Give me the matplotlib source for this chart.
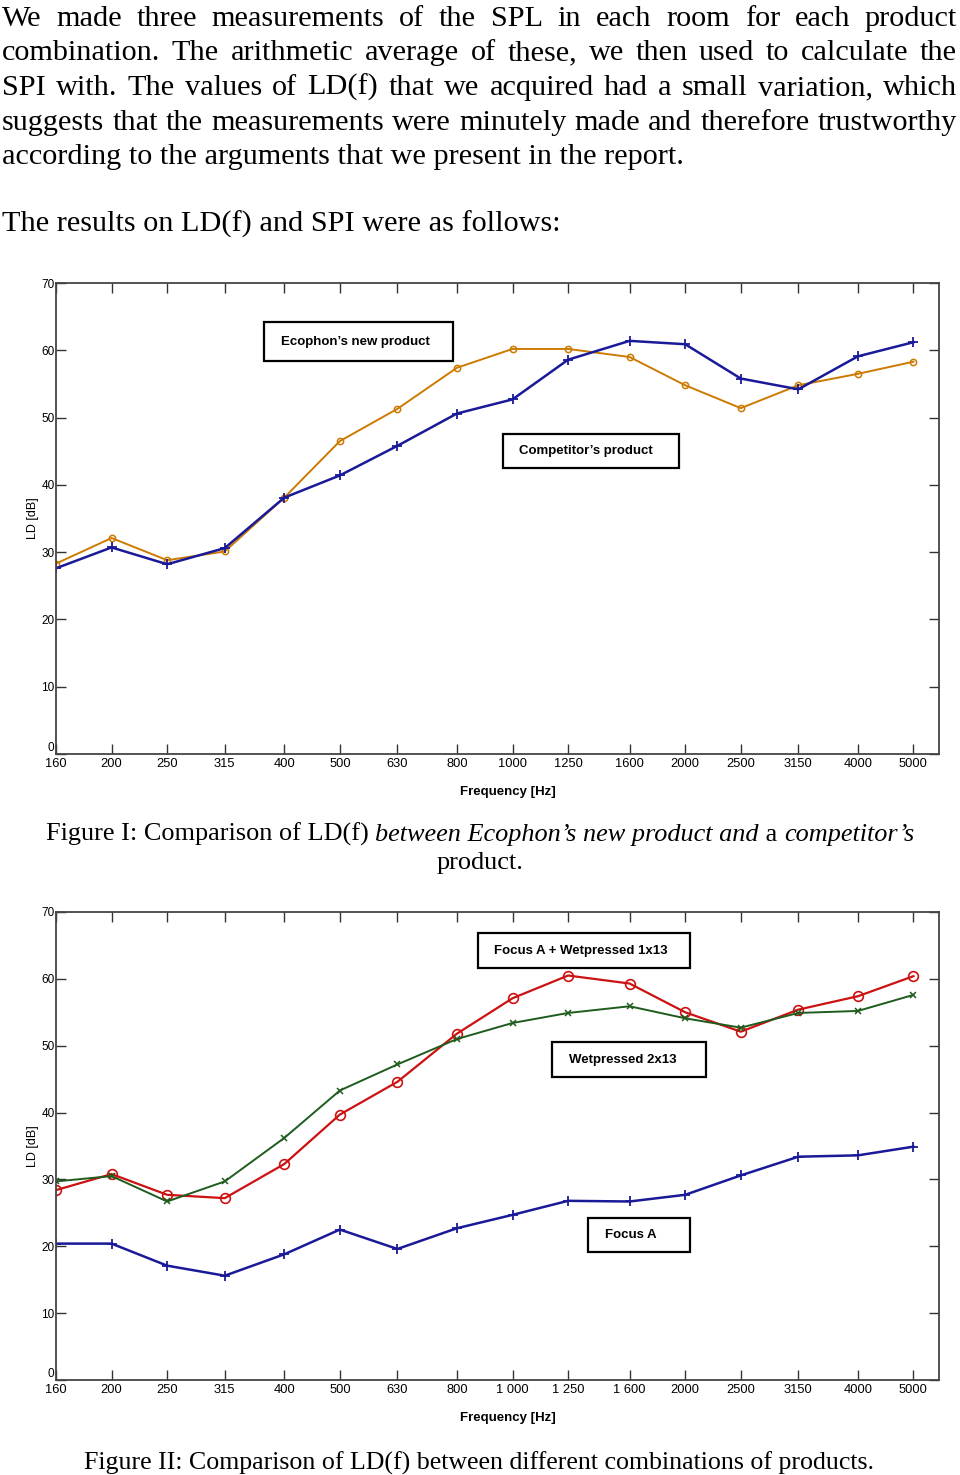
import matplotlib
matplotlib.use("Agg")
import matplotlib.pyplot as plt
from matplotlib.patches import Rectangle

# third-octave band centre frequencies
freqs = [160, 200, 250, 315, 400, 500, 630, 800, 1000, 1250, 1600, 2000, 2500, 3150, 4000, 5000]
labels_fig1 = ["160", "200", "250", "315", "400", "500", "630", "800", "1000", "1250",
               "1600", "2000", "2500", "3150", "4000", "5000"]
labels_fig2 = ["160", "200", "250", "315", "400", "500", "630", "800", "1 000", "1 250",
               "1 600", "2000", "2500", "3150", "4000", "5000"]

# Figure I: LD(f) [dB]
ecophon_new = [28.3, 32.1, 28.8, 30.1, 38.1, 46.5, 51.3, 57.4, 60.2, 60.2,
               59.0, 54.8, 51.4, 54.8, 56.5, 58.3]
competitor = [27.6, 30.7, 28.2, 30.6, 38.1, 41.4, 45.8, 50.6, 52.7, 58.6,
              61.4, 60.9, 55.8, 54.2, 59.1, 61.2]

# Figure II: LD(f) [dB]
focus_a_wet1x13 = [28.4, 30.8, 27.7, 27.2, 32.3, 39.7, 44.6, 51.8, 57.1, 60.5,
                   59.3, 55.0, 52.1, 55.4, 57.4, 60.4]
wet2x13 = [29.7, 30.5, 26.7, 29.7, 36.2, 43.3, 47.2, 51.0, 53.4, 54.9,
           55.9, 54.1, 52.7, 54.9, 55.2, 57.6]
focus_a = [20.4, 20.4, 17.1, 15.6, 18.8, 22.5, 19.6, 22.7, 24.7, 26.8,
           26.7, 27.7, 30.6, 33.4, 33.6, 34.9]

body_lines = [
    "We made three measurements of the SPL in each room for each product",
    "combination. The arithmetic average of these, we then used to calculate the",
    "SPI with. The values of LD(f) that we acquired had a small variation, which",
    "suggests that the measurements were minutely made and therefore trustworthy",
    "according to the arguments that we present in the report.",
]
body_last = "The results on LD(f) and SPI were as follows:"

W, H = 960, 1475
fig = plt.figure(figsize=(W / 100, H / 100), dpi=100)
r = fig.canvas.get_renderer()

SERIF = ["Liberation Serif", "DejaVu Serif"]
SANS = ["Liberation Sans", "DejaVu Sans"]


def fx(x):
    return x / W


def fy(y):
    return 1 - y / H


def width_of(s, fs, **kw):
    t = fig.text(0, 0, s, fontsize=fs, **kw)
    w = t.get_window_extent(r).width
    t.remove()
    return w


# body text, justified, sized so the last line fits its width
fs_body = 20 * 682 / width_of(body_lines[-1], 20, family=SERIF)
for i, line in enumerate(body_lines):
    yb = 26 + 34.5 * i
    if i == len(body_lines) - 1:
        fig.text(fx(2), fy(yb), line, fontsize=fs_body, family=SERIF, va="baseline")
        continue
    words = line.split()
    ws = [width_of(w, fs_body, family=SERIF) for w in words]
    gap = (957 - 2 - sum(ws)) / (len(words) - 1)
    x = 2
    for w, wd in zip(words, ws):
        fig.text(fx(x), fy(yb), w, fontsize=fs_body, family=SERIF, va="baseline")
        x += wd + gap
fig.text(fx(2), fy(232), body_last, fontsize=fs_body, family=SERIF, va="baseline")


def setup_axes(rect_px, xlabels):
    x0, y0, x1, y1 = rect_px
    ax = fig.add_axes([fx(x0), fy(y1), (x1 - x0) / W, (y1 - y0) / H])
    ax.set_xscale("log")
    ax.set_xlim(160, 5540)
    ax.set_ylim(0, 70)
    ax.set_xticks(freqs)
    ax.set_xticklabels(xlabels, family=SANS, fontsize=9.3)
    ax.minorticks_off()
    ax.set_yticks(range(0, 71, 10))
    ax.set_yticklabels([str(v) for v in range(0, 71, 10)], family=SANS, fontsize=8.5)
    ax.get_yticklabels()[0].set_verticalalignment("bottom")
    ax.tick_params(direction="in", length=7, width=1, top=True, right=True, color="#333333")
    ax.tick_params(axis="x", pad=3)
    ax.tick_params(axis="y", pad=1)
    for s in ax.spines.values():
        s.set_color("#444444")
        s.set_linewidth(1.3)
    ax.set_xlabel("Frequency [Hz]", family=SANS, fontsize=9.5, fontweight="bold")
    ax.xaxis.set_label_coords((508 - x0) / (x1 - x0), -32 / (y1 - y0))
    ax.set_ylabel("LD [dB]", family=SANS, fontsize=9, labelpad=2)
    return ax


def label_box(x0, y0, x1, y1, tx, s):
    fig.patches.append(Rectangle((fx(x0), fy(y1)), (x1 - x0) / W, (y1 - y0) / H,
                                 transform=fig.transFigure, fill=False, lw=1.6, ec="black"))
    fig.text(fx(tx), fy((y0 + y1) / 2), s, family=SANS, fontsize=9.5,
             fontweight="bold", va="center")


# Figure I
ax1 = setup_axes((56, 283, 939, 754), labels_fig1)
ax1.plot(freqs, ecophon_new, color="#cc7a00", lw=1.4, marker="o", ms=4.5, mfc="none", mew=1.1)
ax1.plot(freqs, competitor, color="#1a1a99", lw=1.8, marker="+", ms=7, mew=1.3)
label_box(264, 322, 453, 361, 281, "Ecophon’s new product")
label_box(503, 434, 679, 468, 519, "Competitor’s product")

# Figure II
ax2 = setup_axes((56, 912, 939, 1380), labels_fig2)
ax2.plot(freqs, focus_a_wet1x13, color="#cc1111", lw=1.6, marker="o", ms=7, mfc="none", mew=1.2)
ax2.plot(freqs, wet2x13, color="#1e5c1e", lw=1.4, marker="x", ms=5, mew=1.1)
ax2.plot(freqs, focus_a, color="#1a1a99", lw=1.8, marker="+", ms=7, mew=1.3)
label_box(478, 933, 690, 968, 494, "Focus A + Wetpressed 1x13")
label_box(552, 1042, 706, 1077, 569, "Wetpressed 2x13")
label_box(588, 1218, 690, 1252, 605, "Focus A")

# captions
parts = [("Figure I: Comparison of LD(f) ", "normal"),
         ("between Ecophon’s new product and", "italic"),
         (" a ", "normal"),
         ("competitor’s", "italic")]
tot = sum(width_of(s, 20, family=SERIF, style=st) for s, st in parts)
fs_cap = 20 * 867 / tot
x = 46
for s, st in parts:
    fig.text(fx(x), fy(841), s, fontsize=fs_cap, family=SERIF, style=st, va="baseline")
    x += width_of(s, fs_cap, family=SERIF, style=st)
fig.text(0.5, fy(869), "product.", fontsize=fs_cap, family=SERIF, ha="center", va="baseline")

cap2 = "Figure II: Comparison of LD(f) between different combinations of products."
fs_cap2 = 20 * 791 / width_of(cap2, 20, family=SERIF)
fig.text(fx(84), fy(1470), cap2, fontsize=fs_cap2, family=SERIF, va="baseline")

fig.savefig("out.png", dpi=100)
